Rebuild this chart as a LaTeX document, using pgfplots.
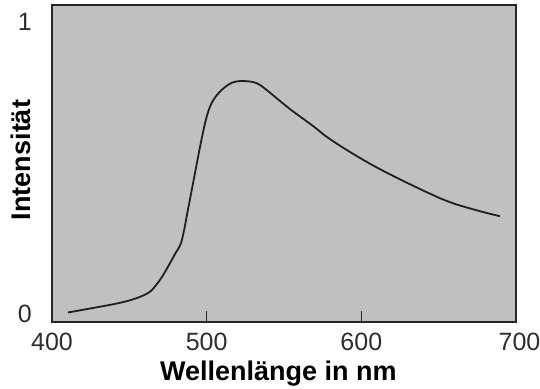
\documentclass[border=0pt]{standalone}
\usepackage{pgfplots}
\pgfplotsset{compat=1.18}
\usepackage{fontspec}
\setmainfont{Liberation Sans}
\definecolor{bggray}{RGB}{192,192,192}
\definecolor{ticktext}{RGB}{45,45,45}
\begin{document}
\begin{tikzpicture}
\path[use as bounding box] (-52pt,-66pt) rectangle (488pt,322pt);
\begin{axis}[
  at={(0pt,0pt)}, anchor=south west,
  scale only axis,
  width=464pt, height=317pt,
  xmin=400, xmax=700,
  ymin=-0.0274, ymax=1.058,
  xtick={400,500,600,700},
  xticklabels={400,500,600,\hspace*{7pt}700},
  ytick={0,1},
  xtick pos=lower,
  tick align=inside,
  x tick style={line width=1.2pt, black!85},
  major tick length=11pt,
  y tick style={draw=none},
  axis line style={line width=2pt, black!85},
  axis background/.style={fill=bggray},
  tick label style={font=\fontsize{25}{30}\selectfont, text=ticktext},
  /pgf/number format/assume math mode=true,
  /pgf/number format/1000 sep={},
  xticklabel style={anchor=north, inner sep=0pt, yshift=-11pt},
  yticklabel style={anchor=east, inner sep=0pt, xshift=-20pt},
  xlabel={Wellenlänge in nm},
  ylabel={Intensität},
  label style={font=\fontsize{27}{32}\selectfont\bfseries},
  xlabel style={at={(axis description cs:0.488,0)}, anchor=base, inner sep=0pt, yshift=-58pt},
  ylabel style={at={(axis description cs:0,0.511)}, anchor=base, inner sep=0pt, yshift=21pt},
]
\addplot[smooth, tension=0.6, line width=1.8pt, color=black!88] coordinates {
(410.3,0.005) (431.0,0.025) (442,0.036) (450.4,0.047) (458,0.061)
(463.3,0.076) (467,0.097) (471,0.126) (475,0.162) (479.5,0.205)
(483.8,0.250) (488,0.360) (492,0.470) (496,0.580) (499.5,0.665)
(503,0.720) (508,0.758) (514,0.785) (519,0.796) (526,0.797)
(532.5,0.790) (539.0,0.766) (553.8,0.702) (568.7,0.644) (577.8,0.606)
(592.6,0.555) (612.0,0.496) (637.9,0.428) (657.3,0.383) (676.7,0.352)
(689.6,0.335)
};
\end{axis}
\end{tikzpicture}
\end{document}
